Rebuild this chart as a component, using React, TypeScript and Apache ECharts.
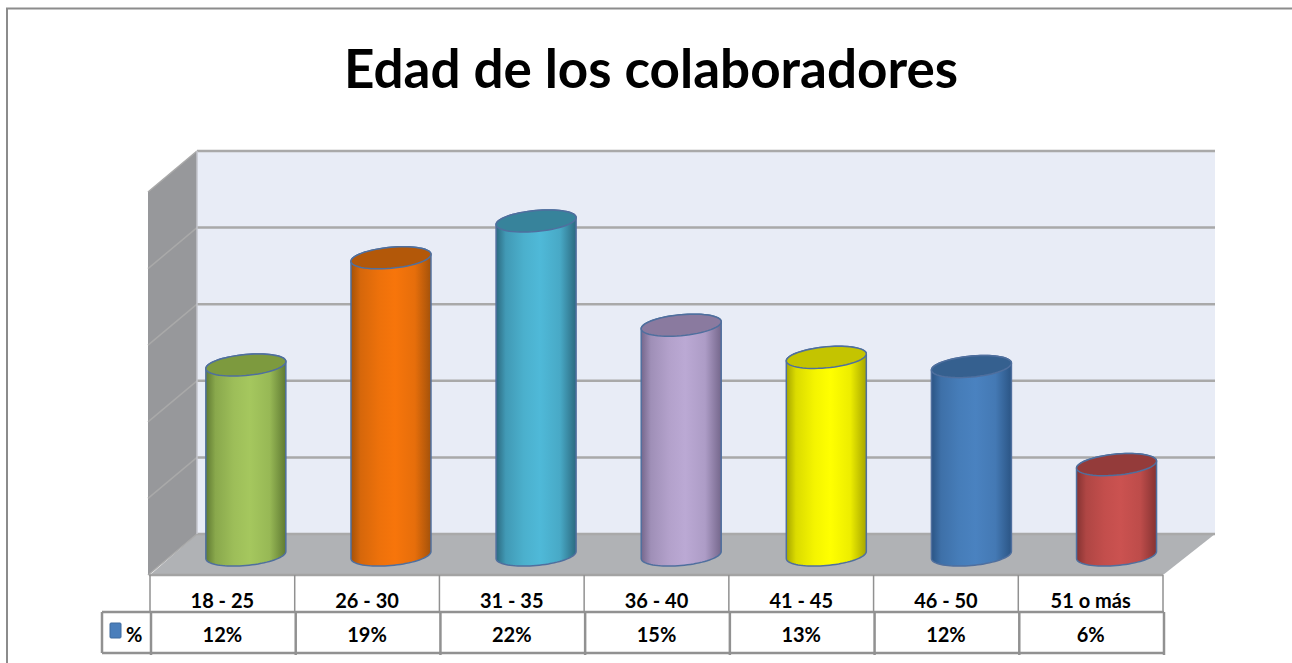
import React, { useEffect, useRef } from "react";
import * as echarts from "echarts";

const categories = ["18 - 25", "26 - 30", "31 - 35", "36 - 40", "41 - 45", "46 - 50", "51 o más"];
const barValues = [12.4, 19.4, 21.8, 15.0, 12.9, 12.3, 5.9];
const tableLabels = ["12%", "19%", "22%", "15%", "13%", "12%", "6%"];
const yTicks = [0, 5, 10, 15, 20, 25];
const seriesName = "%";
const titleText = "Edad de los colaboradores";

const centerColors = ["#a5c75e", "#f7750b", "#4fb9d8", "#bba9d4", "#ffff00", "#4a82c0", "#cb5250"];
const edgeColors = ["#5f7a32", "#a4520a", "#2c6a80", "#75678c", "#a6a600", "#2b5585", "#853332"];
const topColors = ["#7d9a3e", "#b35809", "#37839b", "#8a7a9f", "#c4c400", "#35608f", "#943b3a"];

const FONT = "Lato, Carlito, sans-serif";
const GRID_LEFT = 150;
const GRID_WIDTH = 1013;
const GRID_TOP = 192;
const GRID_HEIGHT = 383;
const DEPTH_X = 47;
const DEPTH_X_RIGHT = 52;
const DEPTH_Y = 41;
const BAR_DX = 23.5;
const BAR_SPREAD = 0.4;
const BAR_DY = 20;
const RX = 40;
const RY = 10.5;
const TILT = 3.5;
const GRID_LINE = "#a9a9a9";
const TABLE_LINE = "#919191";

function mix(a: string, b: string, t: number) {
  const p = (s: string, i: number) => parseInt(s.slice(i, i + 2), 16);
  const c = [1, 3, 5].map((i) => Math.round(p(a, i) + (p(b, i) - p(a, i)) * t));
  return `rgb(${c[0]},${c[1]},${c[2]})`;
}

function ellipsePts(cx: number, cy: number, from: number, to: number, n = 40) {
  const pts: number[][] = [];
  for (let i = 0; i <= n; i++) {
    const t = from + ((to - from) * i) / n;
    pts.push([cx + RX * Math.cos(t), cy + RY * Math.sin(t) - TILT * Math.cos(t)]);
  }
  return pts;
}

function renderWalls(params: any, api: any) {
  const cs = params.coordSys;
  const left = cs.x;
  const right = cs.x + cs.width;
  const yOf = (v: number) => api.coord([0, v])[1];
  const y0 = yOf(yTicks[0]);
  const yMax = yOf(yTicks[yTicks.length - 1]);
  const bl = left + DEPTH_X;
  const br = right + DEPTH_X_RIGHT;
  const children: any[] = [
    { type: "polygon", shape: { points: [[bl, yMax - DEPTH_Y], [br, yMax - DEPTH_Y], [br, y0 - DEPTH_Y], [bl, y0 - DEPTH_Y]] }, style: { fill: "#e8ecf6" } },
    { type: "polygon", shape: { points: [[left - 2, yMax], [bl, yMax - DEPTH_Y], [bl, y0 - DEPTH_Y], [left - 2, y0]] }, style: { fill: "#97989b" } },
    { type: "polygon", shape: { points: [[left, y0], [bl, y0 - DEPTH_Y], [br, y0 - DEPTH_Y], [right, y0]] }, style: { fill: "#b0b2b5" } },
  ];
  yTicks.forEach((t) => {
    const y = yOf(t);
    children.push({ type: "line", shape: { x1: bl, y1: y - DEPTH_Y, x2: br, y2: y - DEPTH_Y }, style: { stroke: GRID_LINE, lineWidth: 2.5 } });
    children.push({ type: "line", shape: { x1: left - 2, y1: y, x2: bl, y2: y - DEPTH_Y }, style: { stroke: GRID_LINE, lineWidth: 1.5 } });
  });
  children.push({ type: "line", shape: { x1: bl, y1: yMax - DEPTH_Y, x2: bl, y2: y0 - DEPTH_Y }, style: { stroke: "#c4c6cc", lineWidth: 1.5 } });
  children.push({ type: "line", shape: { x1: left - 1, y1: y0, x2: right, y2: y0 }, style: { stroke: "#a3a3a3", lineWidth: 2.5 } });
  return { type: "group", children };
}

function renderCylinder(params: any, api: any) {
  const i = params.dataIndex;
  const top = api.coord([i, api.value(1)]);
  const base = api.coord([i, 0]);
  const cx = top[0] + BAR_DX + i * BAR_SPREAD;
  const yTop = top[1] - BAR_DY;
  const yBase = base[1] - BAR_DY;
  const body = [...ellipsePts(cx, yBase, 0, Math.PI), ...ellipsePts(cx, yTop, Math.PI, 2 * Math.PI)];
  const stroke = "#4f6f9e";
  return {
    type: "group",
    children: [
      {
        type: "polygon",
        shape: { points: body },
        style: {
          fill: new echarts.graphic.LinearGradient(0, 0, 1, 0, [
            { offset: 0, color: edgeColors[i] },
            { offset: 0.12, color: mix(edgeColors[i], centerColors[i], 0.6) },
            { offset: 0.35, color: mix(edgeColors[i], centerColors[i], 0.88) },
            { offset: 0.55, color: centerColors[i] },
            { offset: 0.8, color: mix(edgeColors[i], centerColors[i], 0.8) },
            { offset: 1, color: edgeColors[i] },
          ]),
          stroke,
          lineWidth: 1.5,
        },
      },
      {
        type: "polygon",
        shape: { points: ellipsePts(cx, yTop, 0, 2 * Math.PI, 60) },
        style: { fill: topColors[i], stroke, lineWidth: 1.5 },
      },
    ],
  };
}

function renderTable(params: any, api: any) {
  const cs = params.coordSys;
  const y0 = cs.y + cs.height;
  const y1 = y0 + 37;
  const y2 = y1 + 41;
  const left = cs.x;
  const cell = cs.width / categories.length;
  const legendLeft = left - 48;
  const right = cs.x + cs.width;
  const font = `bold 20px ${FONT}`;
  const children: any[] = [];
  const line = (x1: number, a: number, x2: number, b: number, w: number) =>
    children.push({ type: "line", shape: { x1, y1: a, x2, y2: b }, style: { stroke: TABLE_LINE, lineWidth: w } });
  for (let i = 0; i <= categories.length; i++) {
    const x = left + cell * i;
    line(x, y0, x, y1, 1.5);
    line(x + 1, y1, x + 1, y2 + 2, 2.5);
  }
  line(legendLeft, y1, right + 1, y1, 2.5);
  line(legendLeft, y2, right + 1, y2, 2.5);
  line(legendLeft, y1, legendLeft, y2, 2.5);
  tableLabels.forEach((t, i) => {
    children.push({
      type: "text",
      style: { x: left + cell * (i + 0.5), y: (y1 + y2) / 2 + 1, text: t, font, fill: "#000", textAlign: "center", textVerticalAlign: "middle", verticalAlign: "middle", align: "center" },
    });
  });
  children.push({ type: "rect", shape: { x: legendLeft + 8, y: y1 + 11, width: 11, height: 15, r: 1 }, style: { fill: "#4a7ebb", stroke: "#3f6a9e", lineWidth: 1 } });
  children.push({
    type: "text",
    style: { x: legendLeft + 24, y: (y1 + y2) / 2 + 1, text: seriesName, font, fill: "#000", textAlign: "left", textVerticalAlign: "middle", verticalAlign: "middle", align: "left" },
  });
  return { type: "group", children };
}

export default function App() {
  const ref = useRef<HTMLDivElement | null>(null);
  useEffect(() => {
    const chart = echarts.init(ref.current!, undefined, { renderer: "svg" });
    chart.setOption({
      animation: false,
      backgroundColor: "#ffffff",
      title: {
        text: titleText,
        left: 646,
        top: 36,
        textAlign: "center",
        textStyle: { fontFamily: FONT, fontWeight: "bold", fontSize: 53, color: "#000" },
      },
      graphic: [
        {
          type: "polyline",
          shape: { points: [[7, 663], [7, 8.5], [1292, 8.5]] },
          style: { fill: "none", stroke: "#8c8c8c", lineWidth: 2 },
        },
      ],
      grid: { left: GRID_LEFT, top: GRID_TOP, width: GRID_WIDTH, height: GRID_HEIGHT },
      xAxis: {
        type: "category",
        data: categories,
        axisLine: { show: false },
        axisTick: { show: false },
        axisLabel: { margin: 15, color: "#000", fontFamily: FONT, fontWeight: "bold", fontSize: 20, interval: 0 },
      },
      yAxis: { type: "value", min: 0, max: 25, interval: 5, show: false },
      series: [
        { type: "custom", name: "walls", z: 1, silent: true, clip: false, renderItem: renderWalls, data: [[0, 0]], encode: { x: 0, y: 1 } },
        { type: "custom", name: "table", z: 1, silent: true, clip: false, renderItem: renderTable, data: [[0, 0]], encode: { x: 0, y: 1 } },
        {
          type: "custom",
          name: seriesName,
          z: 3,
          silent: true,
          clip: false,
          renderItem: renderCylinder,
          data: barValues.map((v, i) => [i, v]),
          encode: { x: 0, y: 1 },
        },
      ],
    });
    return () => chart.dispose();
  }, []);
  return <div ref={ref} style={{ position: "absolute", left: 0, top: 0, width: 1292, height: 663 }} />;
}
